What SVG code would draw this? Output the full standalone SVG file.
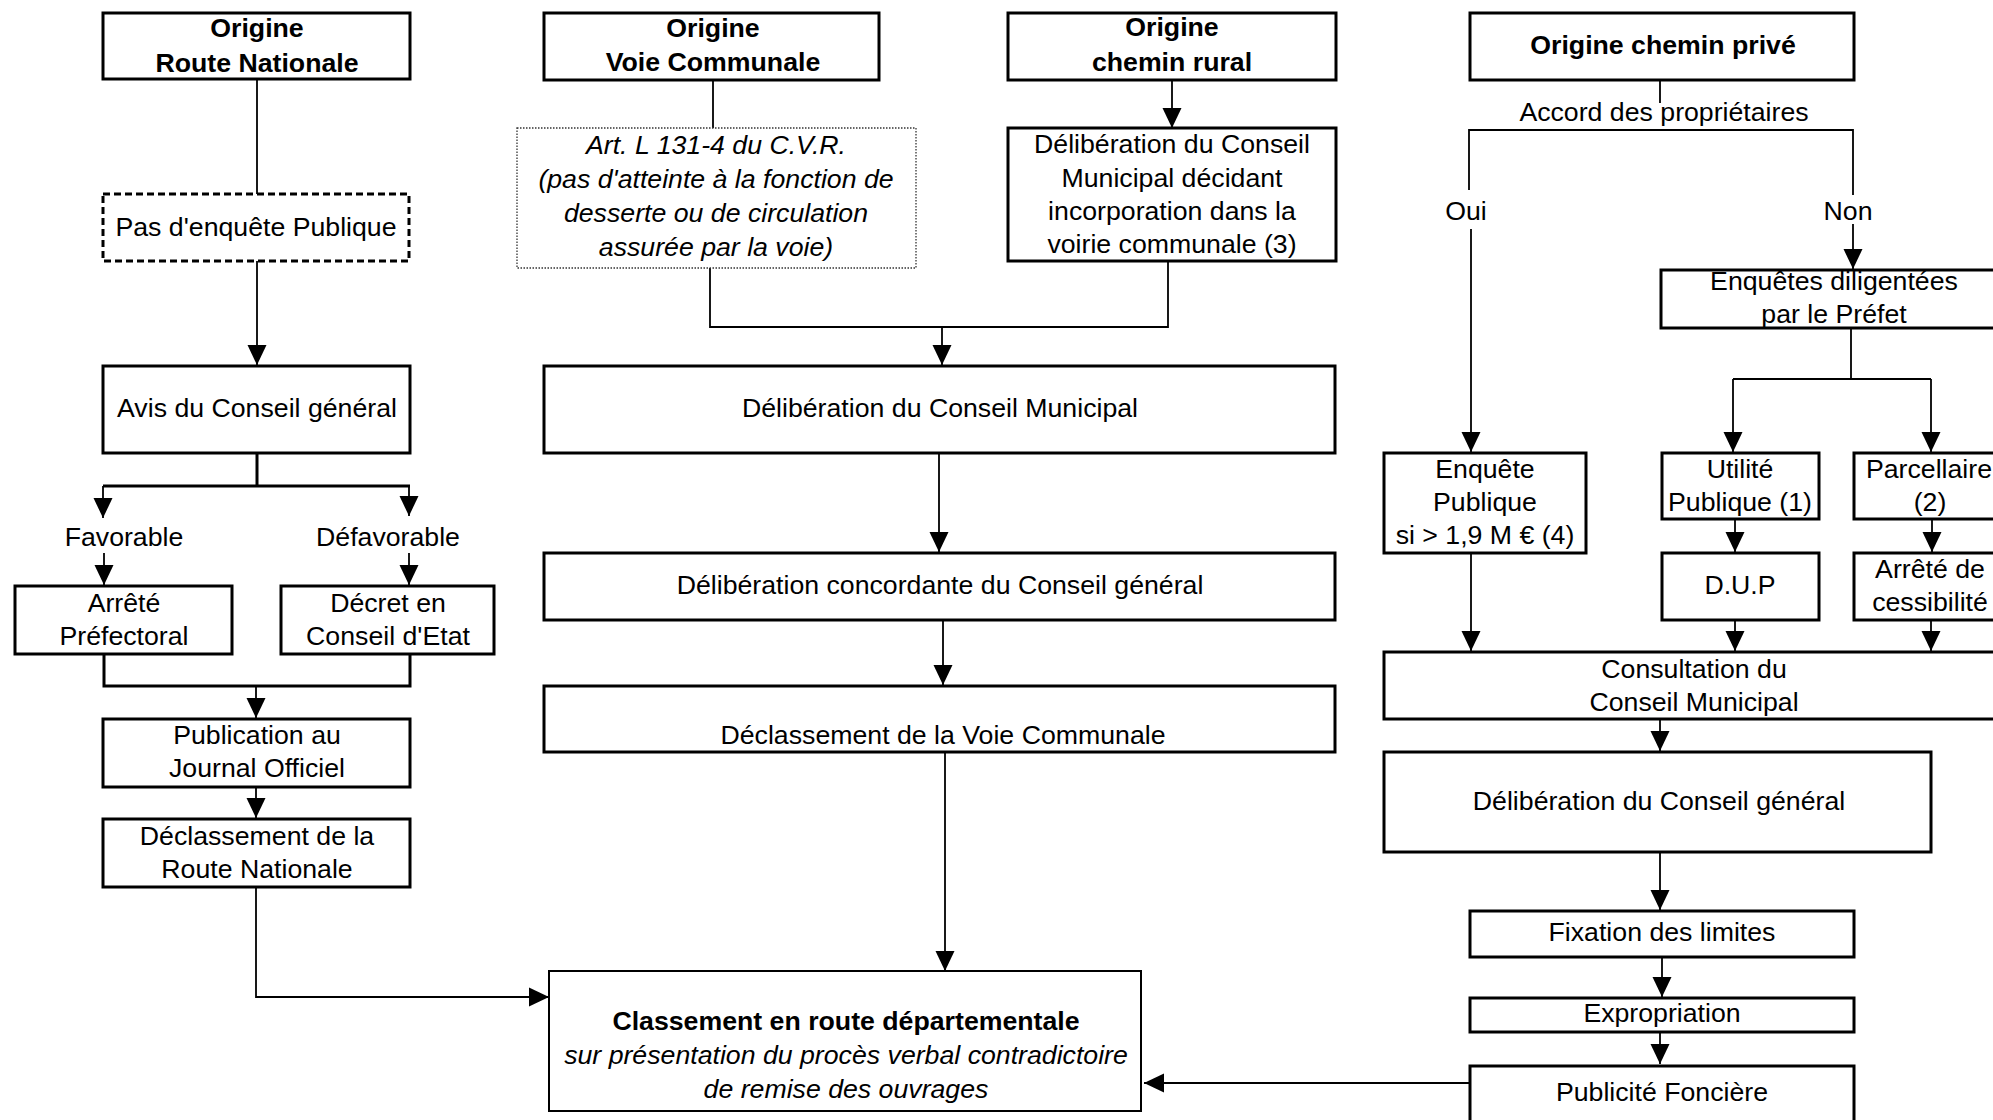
<svg xmlns="http://www.w3.org/2000/svg" width="1993" height="1120" viewBox="0 0 1993 1120">
  <defs>
    <marker id="ah" markerUnits="userSpaceOnUse" markerWidth="20" markerHeight="20" viewBox="0 0 20 20" refX="20" refY="10" orient="auto">
      <path d="M0,0.5 L20,10 L0,19.5 z" fill="#000"/>
    </marker>
  </defs>
  <style>
    .box { fill: #fff; stroke: #000; stroke-width: 3; }
    .dash { fill: #fff; stroke: #000; stroke-width: 3; stroke-dasharray: 7 4; }
    .dot { fill: #fff; stroke: #333; stroke-width: 1.3; stroke-dasharray: 1.5 1.5; }
    .thin { fill: #fff; stroke: #000; stroke-width: 2; }
    .t { font-family: "Liberation Sans", Arial, sans-serif; font-size: 26.7px; text-anchor: middle; fill: #000; }
    .b { font-weight: bold; }
    .i { font-style: italic; }
    .ln { fill: none; stroke: #000; stroke-width: 1.8; }
    .lk { fill: none; stroke: #000; stroke-width: 3; }
    .ar { marker-end: url(#ah); }
  </style>
  <rect width="1993" height="1120" fill="#fff"/>

  <!-- connectors -->
  <g id="connectors">
    <!-- Route Nationale branch -->
    <path class="ln" d="M257,79 V194"/>
    <path class="ln ar" d="M257,261 V365"/>
    <path class="lk" d="M257,453 V486 M103,486 H410"/>
    <path class="ln ar" d="M103,486 V518"/>
    <path class="ln ar" d="M409,486 V516"/>
    <path class="ln ar" d="M104,553 V585"/>
    <path class="ln ar" d="M409,553 V585"/>
    <path class="lk" d="M104,654 V686 H410 V654"/>
    <path class="ln ar" d="M256,686 V718"/>
    <path class="ln ar" d="M256,787 V818"/>
    <path class="ln ar" d="M256,887 V997 H549"/>

    <!-- Voie Communale / chemin rural branch -->
    <path class="ln" d="M713,80 V128"/>
    <path class="ln ar" d="M1172,80 V128"/>
    <path class="ln" d="M710,268 V327 H1168 V261"/>
    <path class="ln ar" d="M942,327 V365"/>
    <path class="ln ar" d="M939,453 V552"/>
    <path class="ln ar" d="M943,620 V685"/>
    <path class="ln ar" d="M945,752 V971"/>

    <!-- chemin privé branch -->
    <path class="ln" d="M1660,80 V103"/>
    <path class="ln" d="M1469,190 V130 H1853 V195"/>
    <path class="ln ar" d="M1471,229 V452"/>
    <path class="ln ar" d="M1853,224 V269"/>
    <path class="ln" d="M1851,328 V379 M1733,379 H1931"/>
    <path class="ln ar" d="M1733,379 V452"/>
    <path class="ln ar" d="M1931,379 V452"/>
    <path class="ln ar" d="M1735,519 V552"/>
    <path class="ln ar" d="M1932,519 V552"/>
    <path class="ln ar" d="M1471,553 V651"/>
    <path class="ln ar" d="M1735,620 V651"/>
    <path class="ln ar" d="M1931,620 V651"/>
    <path class="ln ar" d="M1660,719 V751"/>
    <path class="ln ar" d="M1660,852 V910"/>
    <path class="ln ar" d="M1662,957 V997"/>
    <path class="ln ar" d="M1660,1032 V1064"/>
    <path class="ln ar" d="M1470,1083 H1144"/>

    <!-- branch labels -->
    <text class="t" x="124" y="546">Favorable</text>
    <text class="t" x="388" y="546">Défavorable</text>
    <text class="t" x="1664" y="121">Accord des propriétaires</text>
    <text class="t" x="1466" y="220">Oui</text>
    <text class="t" x="1848" y="220">Non</text>
  </g>

  <!-- Route Nationale column -->
  <g id="origine-rn">
    <rect class="box" x="103" y="13" width="307" height="66"/>
    <text class="t b" x="257" y="37">Origine</text>
    <text class="t b" x="257" y="72">Route Nationale</text>
  </g>
  <g id="pas-enquete">
    <rect class="dash" x="103" y="194" width="306" height="67"/>
    <text class="t" x="256" y="236">Pas d'enquête Publique</text>
  </g>
  <g id="avis-cg">
    <rect class="box" x="103" y="366" width="307" height="87"/>
    <text class="t" x="257" y="417">Avis du Conseil général</text>
  </g>
  <g id="arrete-pref">
    <rect class="box" x="15" y="586" width="217" height="68"/>
    <text class="t" x="124" y="612">Arrêté</text>
    <text class="t" x="124" y="645">Préfectoral</text>
  </g>
  <g id="decret-ce">
    <rect class="box" x="281" y="586" width="213" height="68"/>
    <text class="t" x="388" y="612">Décret en</text>
    <text class="t" x="388" y="645">Conseil d'Etat</text>
  </g>
  <g id="publication-jo">
    <rect class="box" x="103" y="719" width="307" height="68"/>
    <text class="t" x="257" y="744">Publication au</text>
    <text class="t" x="257" y="777">Journal Officiel</text>
  </g>
  <g id="declassement-rn">
    <rect class="box" x="103" y="819" width="307" height="68"/>
    <text class="t" x="257" y="845">Déclassement de la</text>
    <text class="t" x="257" y="878">Route Nationale</text>
  </g>

  <!-- Voie Communale / chemin rural column -->
  <g id="origine-vc">
    <rect class="box" x="544" y="13" width="335" height="67"/>
    <text class="t b" x="713" y="37">Origine</text>
    <text class="t b" x="713" y="71">Voie Communale</text>
  </g>
  <g id="art-l131">
    <rect class="dot" x="517" y="128" width="399" height="140"/>
    <text class="t i" x="716" y="154">Art. L 131-4 du C.V.R.</text>
    <text class="t i" x="716" y="188">(pas d'atteinte à la fonction de</text>
    <text class="t i" x="716" y="222">desserte ou de circulation</text>
    <text class="t i" x="716" y="256">assurée par la voie)</text>
  </g>
  <g id="origine-cr">
    <rect class="box" x="1008" y="13" width="328" height="67"/>
    <text class="t b" x="1172" y="36">Origine</text>
    <text class="t b" x="1172" y="71">chemin rural</text>
  </g>
  <g id="deliberation-cm-incorporation">
    <rect class="box" x="1008" y="128" width="328" height="133"/>
    <text class="t" x="1172" y="153">Délibération du Conseil</text>
    <text class="t" x="1172" y="187">Municipal décidant</text>
    <text class="t" x="1172" y="220">incorporation dans la</text>
    <text class="t" x="1172" y="253">voirie communale (3)</text>
  </g>
  <g id="deliberation-cm">
    <rect class="box" x="544" y="366" width="791" height="87"/>
    <text class="t" x="940" y="417">Délibération du Conseil Municipal</text>
  </g>
  <g id="deliberation-concordante">
    <rect class="box" x="544" y="553" width="791" height="67"/>
    <text class="t" x="940" y="594">Délibération concordante du Conseil général</text>
  </g>
  <g id="declassement-vc">
    <rect class="box" x="544" y="686" width="791" height="66"/>
    <text class="t" x="943" y="744">Déclassement de la Voie Communale</text>
  </g>

  <!-- final classification -->
  <g id="classement-rd">
    <rect class="thin" x="549" y="971" width="592" height="140"/>
    <text class="t b" x="846" y="1030">Classement en route départementale</text>
    <text class="t i" x="846" y="1064">sur présentation du procès verbal contradictoire</text>
    <text class="t i" x="846" y="1098">de remise des ouvrages</text>
  </g>

  <!-- chemin privé column -->
  <g id="origine-cp">
    <rect class="box" x="1470" y="13" width="384" height="67"/>
    <text class="t b" x="1663" y="54">Origine chemin privé</text>
  </g>
  <g id="enquetes-prefet">
    <rect class="box" x="1661" y="270" width="345" height="58"/>
    <text class="t" x="1834" y="290">Enquêtes diligentées</text>
    <text class="t" x="1834" y="323">par le Préfet</text>
  </g>
  <g id="enquete-publique">
    <rect class="box" x="1384" y="453" width="202" height="100"/>
    <text class="t" x="1485" y="478">Enquête</text>
    <text class="t" x="1485" y="511">Publique</text>
    <text class="t" x="1485" y="544">si &gt; 1,9 M € (4)</text>
  </g>
  <g id="utilite-publique">
    <rect class="box" x="1662" y="453" width="157" height="66"/>
    <text class="t" x="1740" y="478">Utilité</text>
    <text class="t" x="1740" y="511">Publique (1)</text>
  </g>
  <g id="parcellaire">
    <rect class="box" x="1854" y="453" width="152" height="66"/>
    <text class="t" x="1929" y="478">Parcellaire</text>
    <text class="t" x="1930" y="511">(2)</text>
  </g>
  <g id="dup">
    <rect class="box" x="1662" y="553" width="157" height="67"/>
    <text class="t" x="1740" y="594">D.U.P</text>
  </g>
  <g id="arrete-cessibilite">
    <rect class="box" x="1854" y="553" width="152" height="67"/>
    <text class="t" x="1930" y="578">Arrêté de</text>
    <text class="t" x="1930" y="611">cessibilité</text>
  </g>
  <g id="consultation-cm">
    <rect class="box" x="1384" y="652" width="622" height="67"/>
    <text class="t" x="1694" y="678">Consultation du</text>
    <text class="t" x="1694" y="711">Conseil Municipal</text>
  </g>
  <g id="deliberation-cg">
    <rect class="box" x="1384" y="752" width="547" height="100"/>
    <text class="t" x="1659" y="810">Délibération du Conseil général</text>
  </g>
  <g id="fixation-limites">
    <rect class="box" x="1470" y="911" width="384" height="46"/>
    <text class="t" x="1662" y="941">Fixation des limites</text>
  </g>
  <g id="expropriation">
    <rect class="box" x="1470" y="998" width="384" height="34"/>
    <text class="t" x="1662" y="1022">Expropriation</text>
  </g>
  <g id="publicite-fonciere">
    <rect class="box" x="1470" y="1066" width="384" height="70"/>
    <text class="t" x="1662" y="1101">Publicité Foncière</text>
  </g>
</svg>
